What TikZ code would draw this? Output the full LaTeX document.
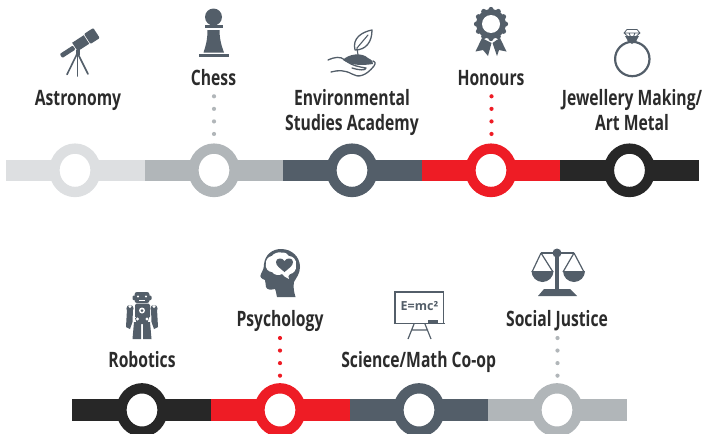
\documentclass[tikz,border=0pt]{standalone}
\usepackage{fontspec}
\usetikzlibrary{shapes.geometric}
\setmainfont[FakeStretch=0.74]{Open Sans}
\newfontfamily\boardfont{Open Sans}
\definecolor{cLight}{HTML}{DDDFE1}
\definecolor{cGray}{HTML}{B1B6B9}
\definecolor{cDark}{HTML}{535E69}
\definecolor{cRed}{HTML}{EE1C25}
\definecolor{cBlack}{HTML}{272727}
\definecolor{cText}{HTML}{2B2B2B}
\tikzset{
  ringnode/.style={ellipse,draw=#1,fill=white,line width=10.3pt,minimum width=41.1pt,minimum height=43.4pt,inner sep=0pt,outer sep=0pt},
  label/.style={font=\bfseries\fontsize{21.2}{25}\selectfont,text=cText,anchor=base,align=center,inner sep=0pt},
  dotline/.style={draw=#1,line width=4.2pt,line cap=round,dash pattern=on 0pt off 12.55pt},
  iconline/.style={draw=cDark,line width=1.6pt,line cap=round,line join=round},
}
\begin{document}
\begin{tikzpicture}[x=1pt,y=-1pt]
\useasboundingbox (0,0) rectangle (702,434);
\clip (0,0) rectangle (702,434);
% top bar
\fill[cLight] (6,160) rectangle (145,181);
\fill[cGray] (145,160) rectangle (283,181);
\fill[cDark] (283,160) rectangle (421.5,181);
\fill[cRed] (421.5,160) rectangle (560,181);
\fill[cBlack] (560,160) rectangle (699,181);
\node[ringnode=cLight] (r1) at (75,170.3) {};
\node[ringnode=cGray] (r2) at (214,170.3) {};
\node[ringnode=cDark] (r3) at (352,170.3) {};
\node[ringnode=cRed] (r4) at (491,170.3) {};
\node[ringnode=cBlack] (r5) at (629.5,170.3) {};
% bottom bar
\fill[cBlack] (72,399) rectangle (211,421);
\fill[cRed] (211,399) rectangle (349.5,421);
\fill[cDark] (349.5,399) rectangle (488,421);
\fill[cGray] (488,399) rectangle (627,421);
\node[ringnode=cBlack] (r6) at (142,410) {};
\node[ringnode=cRed] (r7) at (280,410) {};
\node[ringnode=cDark] (r8) at (419,410) {};
\node[ringnode=cGray] (r9) at (557,410) {};
% labels
\node[label] (l1) at (78,105.4) {Astronomy};
\node[label] (l2) at (213.5,85) {Chess};
\node[label] (l3) at (352,130.4) {Environmental\\Studies Academy};
\node[label] (l4) at (491,85) {Honours};
\node[label] (l5) at (632,130.4) {Jewellery Making/\\Art Metal};
\node[label] (l6) at (142,367) {Robotics};
\node[label] (l7) at (280,326.5) {Psychology};
\node[label] (l8) at (418.7,367) {Science/Math Co-op};
\node[label] (l9) at (557,326.5) {Social Justice};
% dotted connectors
\coordinate (d2) at (214,96.3);
\coordinate (d4) at (491.5,96.3);
\coordinate (d7) at (280,338);
\coordinate (d9) at (557.5,338);
\draw[dotline=cGray] (d2) -- (d2 |- r2.north) ;
\draw[dotline=cRed] (d4) -- (d4 |- r4.north);
\draw[dotline=cRed] (d7) -- (d7 |- r7.north);
\draw[dotline=cGray] (d9) -- (d9 |- r9.north);
% telescope
\begin{scope}[shift={(78,45)},rotate=33,scale=0.92]
 \fill[cDark,rounded corners=1pt] (-22,-2.6) rectangle (-5,2.6);
 \fill[cDark] (-4,-5.5) rectangle (11,5.5);
 \fill[cDark,rounded corners=1pt] (12,-6.5) rectangle (24,6.5);
\end{scope}
\fill[cDark] (75.5,50) rectangle (79.5,55);
\draw[iconline] (77,54) -- (67,74.5);
\draw[iconline] (77.5,54) -- (77.5,76);
\draw[iconline] (78,54) -- (88,74);
% pawn
\fill[cDark] (213.5,17) circle (8.5pt);
\fill[cDark] (205,25) rectangle (222.5,28);
\fill[cDark] (207.5,30) -- (219.5,30) .. controls (219.5,40) and (222,47) .. (224,52.5) -- (203.5,52.5) .. controls (205.5,47) and (207.5,40) .. (207.5,30) -- cycle;
\fill[cDark] (199,54) rectangle (229,57);
% plant in hand
\draw[iconline,line width=1.3pt] (372,30) .. controls (362,32) and (352,38) .. (355,50) .. controls (366,50) and (372,42) .. (372,30) -- cycle;
\draw[iconline,line width=1.1pt] (368,35) -- (357,48) -- (358,55);
\fill[cDark] (343,60) .. controls (348,54) and (362,52) .. (368,58) .. controls (372,60) and (374,62) .. (373,64) .. controls (360,66) and (350,65) .. (343,60) -- cycle;
\draw[iconline,line width=1.3pt] (328,60) .. controls (335,57) and (340,56) .. (345,60) .. controls (352,66) and (360,67) .. (366,68) .. controls (366,71) and (358,70) .. (352,68);
\draw[iconline,line width=1.3pt] (331,72) .. controls (338,70) and (345,70) .. (352,74) .. controls (358,78) and (366,76) .. (374,66) .. controls (376,63) and (375,61) .. (373,61);
% rosette
\foreach \a in {0,30,...,330} \fill[cDark] (491,24) ++(\a:14.5pt) circle (2.6pt);
\fill[cDark] (491,24) circle (14.8pt);
\fill[white] (491,24) circle (9pt);
\fill[cDark] (482,38) -- (475.5,51.5) -- (483,50) -- (488,56) -- (491.5,43) .. controls (488,41) and (485,40) .. (482,38) -- cycle;
\fill[cDark] (500,38) -- (506.5,51.5) -- (499,50) -- (497,56) -- (492.5,43) .. controls (495,41) and (497,40) .. (500,38) -- cycle;
% ring
\draw[draw=cDark,line width=2.2pt] (632.3,59) circle (17.2pt);
\fill[cDark] (628,41) -- (636,41) -- (639,36) -- (625,36) -- cycle;
\fill[cDark] (627,40) -- (637,40) -- (632,44) -- cycle;
\draw[draw=cDark,line width=.8pt,line join=round] (627,29.5) -- (637,29.5) -- (640,33) -- (632,40) -- (624,33) -- cycle (624,33) -- (640,33) (629,33) -- (632,40) -- (635,33);
% robot
\begin{scope}[fill=cDark]
 \fill[rounded corners=2.5pt] (134.5,292) rectangle (149.5,303);
 \fill[rounded corners=1pt] (132.5,295.5) rectangle (151.5,300);
 \fill[white] (138,296.5) circle (1.2pt) (146,296.5) circle (1.2pt);
 \fill[white] (139,300) rectangle (145,301);
 \fill[rounded corners=1.5pt] (135,303.5) rectangle (150,318);
 \fill (135,318) -- (149,318) -- (147,324) -- (137,324) -- cycle;
 \fill (130,308.5) circle (3.6pt) (154,308.5) circle (3.6pt);
 \fill (127,309) -- (133,309) -- (132.5,322) -- (130,329) -- (126,327) -- cycle;
 \fill (151,309) -- (157,309) -- (158,327) -- (154,329) -- (151.5,322) -- cycle;
 \fill (134,322) -- (141,322) -- (141,339) -- (132.5,339) -- cycle;
 \fill (143,322) -- (150,322) -- (151.5,339) -- (143,339) -- cycle;
 \fill[white] (142,310.5) circle (3pt);
 \fill (142,310.5) circle (1.5pt);
 \fill[white] (130,306.5) circle (1.6pt) (154,306.5) circle (1.6pt);
 \fill[white] (137.5,319) circle (1.6pt) (147,319) circle (1.6pt);
\end{scope}
% head
\fill[cDark] (281,249) .. controls (292,249) and (300,257) .. (300,267) .. controls (300,274) and (296,278) .. (294,282) .. controls (293,287) and (294,292) .. (295.5,297) -- (277,297) .. controls (276,293) and (276,290) .. (275,289) .. controls (271,290) and (267,290) .. (266,287) .. controls (265,284) and (266,282) .. (265,280) .. controls (262,279) and (259,277) .. (261,274) .. controls (263,270) and (264,268) .. (264,264) .. controls (265,255) and (272,249) .. (281,249) -- cycle;
\fill[white] (281,252.5) .. controls (285,252) and (288,254) .. (289,256) .. controls (293,256) and (297,260) .. (296,265) .. controls (297,270) and (293,274) .. (290,274) .. controls (288,275) and (288,277) .. (289,279) .. controls (286,278) and (284,276) .. (282,274) .. controls (279,276) and (274,275) .. (272,272) .. controls (268,272) and (265,268) .. (266,264) .. controls (265,260) and (269,256) .. (272,256) .. controls (274,253) and (278,252) .. (281,252.5) -- cycle;
\fill[cDark] (284.5,272) .. controls (280,268) and (276,266) .. (276,262) .. controls (276,258) and (282,257) .. (284.5,261) .. controls (287,257) and (293,258) .. (293,262) .. controls (293,266) and (289,268) .. (284.5,272) -- cycle;
% board
\draw[draw=cDark,line width=1.3pt] (395,292) rectangle (443.3,323.5);
\draw[draw=cDark,line width=1.5pt] (393.5,323.5) -- (445,323.5);
\fill[cDark] (427.5,319.5) rectangle (437.5,323);
\draw[draw=cDark,line width=1.2pt] (414,324) -- (408,339) (425,324) -- (431,339) (411,330) -- (428,330);
\node[inner sep=0pt,text=cDark,font=\boardfont\bfseries\fontsize{12.5}{14}\selectfont] (eq) at (419.5,306.5) {E=mc²};
% scales
\fill[cDark] (557,253) circle (4.5pt);
\fill[cDark] (541,251.8) rectangle (574,254.2);
\fill[cDark] (555.3,253) rectangle (558.8,292);
\fill[cDark] (538,296) -- (544,289) -- (570,289) -- (577,296) -- cycle;
\draw[draw=cDark,line width=1.2pt] (541,253) -- (532,272) (541,253) -- (553,272);
\draw[draw=cDark,line width=1.2pt] (574,253) -- (563,272) (574,253) -- (584,272);
\fill[cDark] (531.5,271) arc[start angle=180,end angle=360,radius=11pt] -- cycle;
\fill[cDark] (563,271) arc[start angle=180,end angle=360,radius=11pt] -- cycle;
\end{tikzpicture}
\end{document}
